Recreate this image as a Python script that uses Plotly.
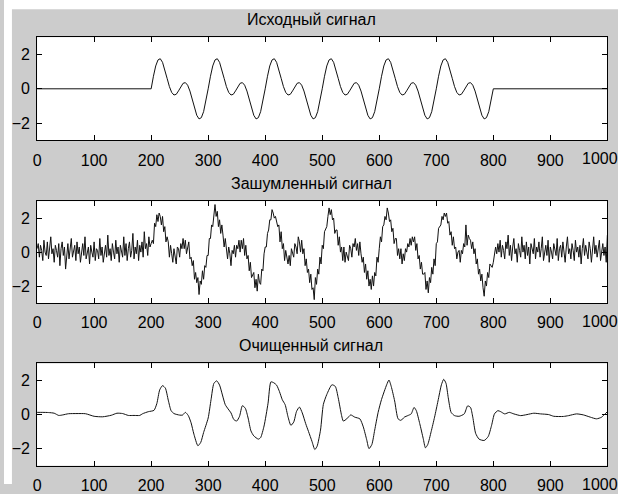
import plotly.graph_objects as go

# ---------------- data ----------------
# original signal: flat 0..200, oscillation 200..800, flat 800..1000
orig_x = [0] + list(range(200, 801, 4)) + [1000]
orig_y = [0.0,
          0.0, 0.73, 1.33, 1.68, 1.75, 1.54, 1.12, 0.61, 0.13, -0.21, -0.36, -0.32, -0.12,
          0.12, 0.32, 0.36, 0.21, -0.13, -0.61, -1.12, -1.54, -1.75, -1.68, -1.33, -0.73,
          0.0, 0.73, 1.33, 1.68, 1.75, 1.54, 1.12, 0.61, 0.13, -0.21, -0.36, -0.32, -0.12,
          0.12, 0.32, 0.36, 0.21, -0.13, -0.61, -1.12, -1.54, -1.75, -1.68, -1.33, -0.73,
          0.0, 0.73, 1.33, 1.68, 1.75, 1.54, 1.12, 0.61, 0.13, -0.21, -0.36, -0.32, -0.12,
          0.12, 0.32, 0.36, 0.21, -0.13, -0.61, -1.12, -1.54, -1.75, -1.68, -1.33, -0.73,
          0.0, 0.73, 1.33, 1.68, 1.75, 1.54, 1.12, 0.61, 0.13, -0.21, -0.36, -0.32, -0.12,
          0.12, 0.32, 0.36, 0.21, -0.13, -0.61, -1.12, -1.54, -1.75, -1.68, -1.33, -0.73,
          0.0, 0.73, 1.33, 1.68, 1.75, 1.54, 1.12, 0.61, 0.13, -0.21, -0.36, -0.32, -0.12,
          0.12, 0.32, 0.36, 0.21, -0.13, -0.61, -1.12, -1.54, -1.75, -1.68, -1.33, -0.73,
          0.0, 0.73, 1.33, 1.68, 1.75, 1.54, 1.12, 0.61, 0.13, -0.21, -0.36, -0.32, -0.12,
          0.12, 0.32, 0.36, 0.21, -0.13, -0.61, -1.12, -1.54, -1.75, -1.68, -1.33, -0.73,
          0.0,
          0.0]

# noisy signal, sampled every 2 points
noisy_x = list(range(0, 1001, 2))
noisy_y = [
    # 0-198
    0.2, 0.5, -0.3, 0.4, 0.1, -0.5, 0.7, 0.0, -0.2, 0.6,
    -0.4, 0.3, 0.9, -0.1, 0.2, -0.6, 0.4, 0.1, -0.3, 0.5,
    -0.8, 0.2, 0.6, -0.2, 0.3, -1.0, 0.1, 0.5, -0.4, 0.2,
    0.8, -0.3, 0.0, 0.4, -0.5, 0.6, -0.1, 0.3, -0.6, 0.2,
    0.5, -0.2, 0.9, -0.4, 0.1, 0.3, -0.7, 0.4, 0.0, -0.3,
    0.6, -0.5, 0.2, 0.1, -0.4, 0.8, -0.2, 0.3, -0.6, 0.1,
    0.4, -0.3, 1.0, -0.2, 0.2, -0.5, 0.5, 0.0, -0.4, 0.7,
    -0.1, 0.3, -0.6, 0.4, 0.1, -0.3, 0.9, -0.2, 0.5, -0.5,
    0.2, 0.6, -0.3, 0.1, 1.1, -0.4, 0.3, -0.1, 0.7, -0.5,
    0.4, 0.0, 0.6, -0.3, 1.2, 0.2, 0.5, -0.2, 0.9, 0.3,
    # 200-298
    0.5, 0.7, 0.5, 1.7, 1.5, 2.2, 1.8, 2.3, 2.1, 1.6,
    2.1, 1.2, 1.5, 0.6, 0.9, 0.6, -0.3, 0.4, -0.1, -0.6,
    0.2, -0.3, -0.7, 0.3, 0.2, -0.3, 0.5, 0.2, 0.8, 0.2,
    0.7, -0.1, 0.4, 0.6, -0.4, -0.3, -0.8, -0.5, -1.6, -1.2,
    -1.8, -1.5, -2.5, -1.7, -1.9, -1.1, -1.6, -0.8, -0.9, -0.2,
    # 300-398
    -0.2, 0.8, 0.8, 1.6, 1.5, 2.1, 2.8, 2.1, 2.4, 1.5,
    1.9, 1.1, 1.6, 1.0, 0.3, 0.8, 0.1, -0.4, 0.3, -0.1,
    -0.8, 0.1, -0.1, 0.4, -0.3, 0.4, 0.2, 0.7, 0.0, 0.7,
    0.2, 0.8, -0.2, 0.4, -0.4, -0.2, -1.1, -0.6, -1.5, -1.3,
    -1.2, -2.1, -1.6, -2.3, -1.3, -1.8, -1.9, -1.0, -1.1, -0.1,
    # 400-498
    0.3, 0.3, 1.1, 1.3, 1.9, 1.9, 2.5, 2.3, 2.0, 2.1,
    1.8, 1.5, 1.6, 0.6, 1.2, 0.2, 0.5, -0.5, 0.1, -0.4,
    -0.7, -0.2, -0.8, 0.2, -0.1, -0.3, 0.5, 0.3, -0.1, 0.9,
    0.6, 0.0, 0.7, -0.1, 0.2, -0.8, -0.4, -1.2, -1.0, -1.8,
    -1.3, -2.2, -2.1, -2.8, -1.5, -1.9, -1.0, -1.3, -0.3, -0.7,
    # 500-598
    0.4, 0.2, 1.2, 1.4, 1.5, 2.1, 2.6, 2.2, 2.5, 1.9,
    2.0, 1.1, 1.3, 1.3, 0.4, 0.9, 0.0, 0.3, -0.5, 0.3,
    -0.6, 0.0, -0.2, -0.5, 0.4, 0.2, -0.3, 0.5, 0.3, 0.8,
    0.1, 0.5, -0.2, 0.6, -0.1, -0.6, -0.3, -1.2, -0.7, -1.6,
    -1.1, -2.0, -1.6, -2.2, -1.4, -2.0, -1.2, -1.4, -0.3, -0.6,
    # 600-698
    0.2, 0.9, 0.6, 1.5, 1.6, 2.1, 1.9, 2.6, 2.3, 1.8,
    1.9, 1.2, 1.4, 0.5, 0.8, 0.8, -0.2, 0.2, -0.4, 0.2,
    -0.7, -0.1, -0.5, 0.2, 0.0, 0.5, 0.3, 0.8, 0.4, 0.9,
    0.6, 0.9, 0.1, 0.5, -0.4, -0.2, -1.0, -0.6, -1.3, -1.3,
    -1.2, -2.2, -1.7, -2.4, -1.5, -1.8, -0.9, -1.3, -0.4, -0.8,
    # 700-798
    0.5, 0.6, 1.4, 1.5, 1.6, 2.1, 1.9, 2.3, 2.1, 2.3,
    1.7, 1.8, 1.0, 1.2, 0.4, 0.9, 0.2, 0.3, -0.4, 0.0,
    0.1, -0.6, 0.1, -0.1, 0.5, 0.3, 1.6, 0.4, 1.0, 0.8,
    0.7, 0.2, 0.6, -0.1, 0.2, -0.7, -0.4, -1.3, -1.0, -1.7,
    -1.3, -2.1, -2.6, -1.7, -2.0, -1.2, -1.5, -0.7, -0.8, -0.9,
    # 800-1000
    -0.6, -0.2, 0.3, -0.1, 0.5, 0.0, 0.7, -0.3, 0.4, 0.1,
    -0.4, 0.6, 0.2, 1.0, -0.2, 0.4, -0.5, 0.3, 0.8, -0.1,
    0.2, -0.6, 0.5, 0.1, -0.3, 0.9, 0.0, 0.4, -0.4, 0.6,
    -0.2, 0.3, -0.7, 0.5, 0.2, -0.1, 0.8, -0.4, 0.3, 0.0,
    0.6, -0.3, 0.2, 0.9, -0.5, 0.1, 0.4, -0.2, 0.7, -0.6,
    0.3, 0.0, -0.4, 0.5, 0.1, -0.2, 0.8, -0.5, 0.2, 0.4,
    -0.3, 0.6, 0.0, -0.6, 0.3, 0.9, -0.1, 0.2, -0.4, 0.5,
    0.1, -0.5, 0.7, 0.0, 0.3, -0.3, 0.4, -0.7, 0.2, 0.8,
    -0.2, 0.4, 0.0, -0.4, 0.6, 0.2, -0.6, 0.3, 0.9, -0.1,
    0.4, -0.3, 0.2, 0.7, -0.5, 0.1, 0.5, -0.2, 0.3, -0.6,
    1.0,
]

# cleaned (denoised) signal
clean_x = [0, 10, 20, 30, 38, 45, 55, 70, 85, 100, 115, 130, 140, 150, 160, 170, 180,
           185, 195, 205, 210, 215, 220, 225, 230, 235, 240, 250, 255, 260, 265, 270,
           275, 282, 287, 292, 300, 305, 310, 315, 320, 325, 330, 335, 340, 345, 350,
           355, 360, 365, 370, 375, 380, 388, 392, 398, 405, 410, 415, 420, 425, 430,
           435, 440, 445, 450, 455, 460, 465, 471, 476, 482, 487, 491, 497, 502, 508,
           517, 523, 528, 534, 537, 543, 550, 557, 566, 572, 578, 582, 587, 592, 598,
           604, 613, 617, 621, 627, 633, 638, 644, 650, 656, 661, 665, 671, 677, 681,
           685, 691, 697, 703, 709, 713, 717, 721, 726, 732, 740, 749, 755, 760, 764,
           769, 775, 784, 791, 797, 802, 808, 813, 820, 828, 836, 848, 859, 871, 883,
           897, 906, 923, 932, 946, 958, 970, 981, 990, 996, 1000]
clean_y = [0.13, 0.13, 0.12, 0.08, -0.05, -0.02, 0.05, 0.06, 0.05, -0.1, -0.13, -0.04,
           0.08, 0.06, -0.05, -0.05, -0.05, 0.05, 0.17, 0.25, 0.65, 1.45, 1.7, 1.55,
           0.85, 0.23, 0.06, -0.03, -0.03, 0.13, -0.05, -0.48, -1.15, -1.83, -1.63,
           -1.05, -0.2, 0.87, 1.83, 1.98, 1.73, 1.15, 0.58, 0.33, 0.1, -0.29, -0.38,
           -0.1, 0.52, 0.38, -0.2, -0.96, -1.25, -1.44, -1.35, -0.67, 0.67, 1.92, 1.87,
           1.73, 1.35, 0.87, 0.58, -0.13, -0.63, -0.44, 0.19, 0.44, 0.1, -0.53, -1.0,
           -1.57, -2.05, -1.86, -0.91, 0.6, 1.18, 1.75, 1.65, 0.99, -0.06, -0.38, -0.25,
           -0.02, -0.15, -0.25, -0.72, -1.48, -2.0, -1.76, -0.91, 0.13, 0.89, 1.75,
           2.03, 1.65, 0.8, -0.25, -0.34, -0.15, -0.06, 0.04, 0.42, 0.23, -0.53, -1.39,
           -1.95, -1.76, -1.0, -0.15, 0.8, 1.75, 2.07, 1.84, 0.99, 0.13, -0.06, -0.1,
           0.04, 0.51, 0.42, -0.15, -1.1, -1.44, -1.52, -1.29, -0.63, 0.04, 0.23, 0.17,
           0.04, 0.13, 0.04, -0.06, 0.0, 0.08, 0.04, 0.0, -0.1, -0.11, -0.06, 0.04,
           -0.02, -0.15, -0.25, -0.15, 0.04, 0.17]

titles = ["Исходный сигнал", "Зашумленный сигнал", "Очищенный сигнал"]
x_ticks = list(range(0, 1001, 100))
x_ticktext = [str(v) for v in x_ticks[:-1]]   # last label ("1000") drawn at figure edge
edge_label = "1000"
y_ticks = [-2, 0, 2]

# ---------------- layout geometry ----------------
W, H = 618, 494
x_dom = [33.3 / W, 607.3 / W]
tops = [38.0, 205.3, 371.0]
bottoms = [143.3, 309.3, 475.3]
y_doms = [[1 - b / H, 1 - t / H] for t, b in zip(tops, bottoms)]

BG = "#cccccc"
FONT = "Liberation Sans, Arial, sans-serif"

fig = go.Figure()
series = [(orig_x, orig_y, "linear"), (noisy_x, noisy_y, "linear"),
          (clean_x, clean_y, "spline")]
for i, (xs, ys, shp) in enumerate(series):
    sfx = "" if i == 0 else str(i + 1)
    line = dict(color="#111111", width=1, shape=shp)
    if shp == "spline":
        line["smoothing"] = 0.6
    fig.add_trace(go.Scatter(
        x=xs, y=ys, mode="lines", line=line,
        xaxis="x" + sfx, yaxis="y" + sfx, showlegend=False, hoverinfo="skip"))

axis_common = dict(showline=True, linecolor="black", linewidth=1, mirror="ticks",
                   ticks="inside", ticklen=5, tickcolor="black", showgrid=False,
                   zeroline=False,
                   tickfont=dict(family=FONT, size=16, color="black"))

annotations = []
for i in range(3):
    sfx = "" if i == 0 else str(i + 1)
    fig.update_layout(**{
        "xaxis" + sfx: dict(domain=x_dom, range=[0, 1000], tickvals=x_ticks,
                            ticktext=x_ticktext + [""],
                            ticklabelstandoff=5, anchor="y" + sfx, **axis_common),
        "yaxis" + sfx: dict(domain=y_doms[i], range=[-3, 3], tickvals=y_ticks,
                            ticklabelstandoff=3, anchor="x" + sfx, **axis_common),
    })
    annotations.append(dict(text=titles[i], xref="paper", yref="paper", x=0.5,
                            y=y_doms[i][1], xanchor="center", yanchor="bottom",
                            yshift=7, showarrow=False,
                            font=dict(family=FONT, size=16, color="black")))
    annotations.append(dict(text=edge_label, xref="paper", yref="paper", x=1.0,
                            y=y_doms[i][0], xanchor="right", yanchor="top",
                            yshift=-9, xshift=1, showarrow=False, borderpad=0,
                            font=dict(family=FONT, size=16, color="black")))

shapes = [
    dict(type="rect", xref="paper", yref="paper", x0=0, x1=8 / W, y0=0, y1=1,
         fillcolor="white", line=dict(width=0), layer="below"),
    dict(type="rect", xref="paper", yref="paper", x0=0, x1=1, y0=1 - 9.5 / H, y1=1,
         fillcolor="white", line=dict(width=0), layer="below"),
]

fig.update_layout(width=W, height=H, margin=dict(l=0, r=0, t=0, b=0),
                  paper_bgcolor=BG, plot_bgcolor="white",
                  annotations=annotations, shapes=shapes)

fig.write_html("out.html")
